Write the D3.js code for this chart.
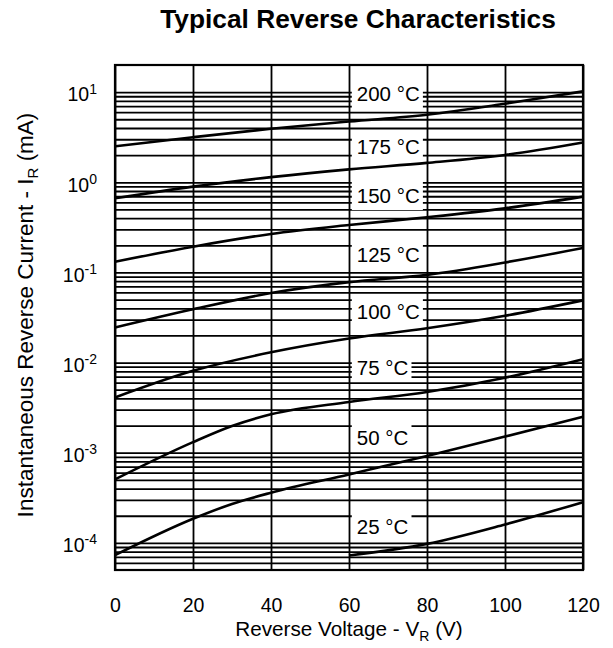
<!DOCTYPE html>
<html>
<head>
<meta charset="utf-8">
<script src="https://cdn.jsdelivr.net/npm/d3@7"></script>
<style>
  html, body { margin: 0; padding: 0; background: #fff; }
  svg { display: block; font-family: "Liberation Sans", Arial, Helvetica, sans-serif; }
</style>
</head>
<body>
<svg id="chart" width="613" height="648"></svg>
<script>
// ---- data ----
const voltsFull = [0, 20, 40, 60, 80, 100, 120];
const voltsKnee = [0, 20, 30, 40, 60, 80, 100, 120];
const volts25   = [60, 80, 100, 120];

const i200 = [2.51, 3.16, 3.92, 4.72, 5.61, 7.43, 10.2];
const i175 = [0.664, 0.895, 1.14, 1.39, 1.64, 2.01, 2.76];
const i150 = [0.1315, 0.193, 0.267, 0.336, 0.409, 0.514, 0.693];
const i125 = [0.0245, 0.039, 0.059, 0.078, 0.094, 0.129, 0.187];
const i100 = [0.0041, 0.0081, 0.013, 0.0185, 0.024, 0.033, 0.049];
const i75  = [5.06e-4, 1.31e-3, 1.98e-3, 2.67e-3, 3.66e-3, 4.72e-3, 6.8e-3, 0.0109];
const i50  = [7.3e-5, 1.85e-4, 2.7e-4, 3.6e-4, 5.74e-4, 9.2e-4, 1.51e-3, 2.51e-3];
const i25  = [7.24e-5, 9.75e-5, 1.6e-4, 2.83e-4];

const tempLabels = ["200 °C", "175 °C", "150 °C", "125 °C", "100 °C", "75 °C", "50 °C", "25 °C"];
const labelCurrent = [9.6, 2.47, 0.711, 0.1556, 0.0366, 0.0088, 0.00147, 1.51e-4];
const labelVolt = 62;

const xTicks = [0, 20, 40, 60, 80, 100, 120];
const yDecades = [1e-4, 1e-3, 1e-2, 1e-1, 1, 10];
const yExponents = ["-4", "-3", "-2", "-1", "0", "1"];

const series = [
  { v: voltsFull, i: i200 },
  { v: voltsFull, i: i175 },
  { v: voltsFull, i: i150 },
  { v: voltsFull, i: i125 },
  { v: voltsFull, i: i100 },
  { v: voltsKnee, i: i75 },
  { v: voltsKnee, i: i50 },
  { v: volts25,   i: i25 }
];

(function () {
// ---- layout ----
const mLeft = 115, mRight = 583, mTop = 65, mBottom = 570;
const svg = d3.select("#chart");

const x = d3.scaleLinear().domain([0, 120]).range([mLeft, mRight]);
const y = d3.scaleLog().domain([5e-5, 20]).range([mBottom, mTop]);

// minor grid values 1..9 per decade within domain
const minorVals = [];
for (let e = -5; e <= 1; e++) {
  for (let m = 1; m <= 9; m++) {
    const v = m * Math.pow(10, e);
    if (v > 5e-5 * 1.0001 && v < 20 * 0.9999) minorVals.push(v);
  }
}

// title
svg.append("text")
  .attr("x", 358).attr("y", 28)
  .attr("text-anchor", "middle")
  .attr("font-size", 26.3).attr("font-weight", "bold")
  .text("Typical Reverse Characteristics");

// horizontal grid
const hg = svg.append("g")
  .attr("transform", `translate(${mLeft},0)`)
  .call(d3.axisLeft(y).tickValues(minorVals).tickSize(-(mRight - mLeft)).tickFormat(""));
hg.select(".domain").remove();
hg.selectAll("line").attr("stroke", "#000").attr("stroke-width", 1.8);

// vertical grid
const vg = svg.append("g")
  .attr("transform", `translate(0,${mBottom})`)
  .call(d3.axisBottom(x).tickValues(xTicks).tickSize(-(mBottom - mTop)).tickFormat(""));
vg.select(".domain").remove();
vg.selectAll("line").attr("stroke", "#000").attr("stroke-width", 1.8);

// curves
const line = d3.line()
  .x(d => x(d[0]))
  .y(d => y(d[1]))
  .curve(d3.curveMonotoneX);

svg.append("g").selectAll("path")
  .data(series)
  .join("path")
  .attr("d", s => line(s.v.map((v, k) => [v, s.i[k]])))
  .attr("fill", "none")
  .attr("stroke", "#000")
  .attr("stroke-width", 2.6);

// temperature labels with white boxes
const lg = svg.append("g");
tempLabels.forEach((t, k) => {
  const g = lg.append("g");
  const txt = g.append("text")
    .attr("x", x(labelVolt))
    .attr("y", y(labelCurrent[k]))
    .attr("dy", "0.36em")
    .attr("font-size", 20.5)
    .text(t);
  const bb = txt.node().getBBox();
  g.insert("rect", "text")
    .attr("x", bb.x - 5)
    .attr("y", bb.y - 3)
    .attr("width", bb.width + 8)
    .attr("height", bb.height + 6)
    .attr("fill", "#fff");
});

// frame
svg.append("rect")
  .attr("x", mLeft).attr("y", mTop)
  .attr("width", mRight - mLeft).attr("height", mBottom - mTop)
  .attr("fill", "none").attr("stroke", "#000").attr("stroke-width", 2.2);

// x axis labels
const xa = svg.append("g")
  .attr("transform", `translate(0,${mBottom})`)
  .call(d3.axisBottom(x).tickValues(xTicks).tickSize(0).tickPadding(28).tickFormat(d3.format("d")));
xa.select(".domain").remove();
xa.selectAll("text").attr("font-size", 19.5).attr("font-family", null).attr("fill", "#000");

// y axis labels (10^n)
const ya = svg.append("g")
  .attr("transform", `translate(${mLeft},0)`)
  .call(d3.axisLeft(y).tickValues(yDecades).tickSize(0).tickPadding(18).tickFormat(""));
ya.select(".domain").remove();
ya.selectAll("text")
  .attr("font-size", 19.5).attr("font-family", null).attr("fill", "#000")
  .attr("dy", "0.45em")
  .each(function(d, k) {
    const t = d3.select(this);
    t.append("tspan").text("10");
    t.append("tspan").attr("dy", "-0.55em").attr("font-size", 14).text(yExponents[k]);
  });

// x axis title
const xt = svg.append("text")
  .attr("x", (mLeft + mRight) / 2).attr("y", 636)
  .attr("text-anchor", "middle")
  .attr("font-size", 20.7);
xt.append("tspan").text("Reverse Voltage - V");
xt.append("tspan").attr("font-size", 14).attr("dy", 5).text("R");
xt.append("tspan").attr("dy", -5).text(" (V)");

// y axis title
const yt = svg.append("text")
  .attr("transform", `translate(33,315) rotate(-90)`)
  .attr("text-anchor", "middle")
  .attr("font-size", 22.5);
yt.append("tspan").text("Instantaneous Reverse Current - I");
yt.append("tspan").attr("font-size", 15).attr("dy", 5).text("R");
yt.append("tspan").attr("dy", -5).text(" (mA)");
})();
</script>
</body>
</html>
